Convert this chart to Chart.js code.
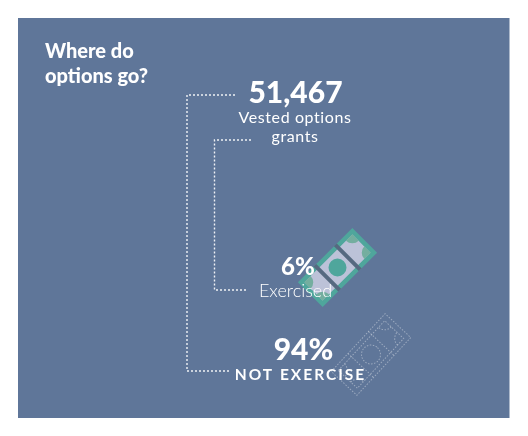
<!DOCTYPE html>
<html>
<head>
<meta charset="utf-8">
<title>Where do options go?</title>
<script src="https://cdn.jsdelivr.net/npm/chart.js@4"></script>
<style>
  html, body { margin: 0; padding: 0; background: #fff; }
  canvas { display: block; }
</style>
</head>
<body>
<canvas id="chart" width="528" height="436"></canvas>
<script>
const titleLines = ['Where do', 'options go?'];
const totalGrants = [51467];
const shareValues = [6, 94];
const shareLabels = ['Exercised', 'NOT EXERCISE'];
const totalLabel = ['Vested options', 'grants'];

// the two dotted brackets, in picture units
const outerX = [235, 187, 187, 229];
const outerY = [95, 95, 371, 371];
const innerX = [251, 214.5, 214.5, 248];
const innerY = [140, 140, 290, 290];

const panelColor = '#5f7699';
const white = '#ffffff';

function bracket(xs, ys) {
  return {
    data: xs.map((x, i) => ({ x: x, y: ys[i] })),
    showLine: true,
    borderColor: 'rgba(255,255,255,0.9)',
    borderWidth: 1.4,
    borderDash: [2, 2],
    pointRadius: 0,
    tension: 0
  };
}

function billOutline(ctx, filled) {
  // body of the note, centered on 0,0
  if (filled) {
    ctx.fillStyle = '#4fa69c';
    ctx.fillRect(-38.5, -17.5, 77, 35);
    ctx.save();
    ctx.beginPath();
    ctx.rect(-34, -13, 68, 26);
    ctx.clip();
    ctx.fillStyle = '#bcc2d8';
    ctx.fillRect(-34, -13, 68, 26);
    ctx.fillStyle = '#74ae9f';
    [[-34, -13], [34, -13], [-34, 13], [34, 13]].forEach(c => {
      ctx.beginPath();
      ctx.arc(c[0], c[1], 9, 0, Math.PI * 2);
      ctx.fill();
    });
    ctx.restore();
    ctx.fillStyle = '#566980';
    ctx.fillRect(-16.5, -17.5, 4, 35);
    ctx.fillRect(12.5, -17.5, 4, 35);
    ctx.fillStyle = '#4fa69c';
    ctx.beginPath();
    ctx.arc(0, 0, 9, 0, Math.PI * 2);
    ctx.fill();
  } else {
    ctx.strokeStyle = 'rgba(255,255,255,0.38)';
    ctx.lineWidth = 1;
    ctx.setLineDash([1.5, 1.5]);
    ctx.strokeRect(-39.5, -17.5, 79, 35);
    ctx.strokeRect(-34, -13, 68, 26);
    ctx.beginPath();
    ctx.moveTo(-15, -17.5); ctx.lineTo(-15, 17.5);
    ctx.moveTo(15, -17.5); ctx.lineTo(15, 17.5);
    ctx.stroke();
    ctx.beginPath();
    ctx.arc(0, 0, 9.5, 0, Math.PI * 2);
    ctx.stroke();
    [[-34, -13, 0], [34, -13, Math.PI / 2], [34, 13, Math.PI], [-34, 13, -Math.PI / 2]].forEach(c => {
      ctx.beginPath();
      ctx.arc(c[0], c[1], 9, c[2], c[2] + Math.PI / 2);
      ctx.stroke();
    });
  }
}

const pagePlugin = {
  id: 'page',
  beforeDatasetsDraw(chart) {
    const ctx = chart.ctx;
    const sx = chart.scales.x;
    const sy = chart.scales.y;
    ctx.save();
    ctx.fillStyle = panelColor;
    ctx.fillRect(sx.getPixelForValue(18), sy.getPixelForValue(18), 491.5, 400);
    ctx.restore();

    ctx.save();
    ctx.translate(sx.getPixelForValue(337.5), sy.getPixelForValue(267.5));
    ctx.rotate(-Math.PI / 4);
    billOutline(ctx, true);
    ctx.restore();

    ctx.save();
    ctx.translate(sx.getPixelForValue(371), sy.getPixelForValue(354.5));
    ctx.rotate(-47 * Math.PI / 180);
    billOutline(ctx, false);
    ctx.restore();
  },
  afterDatasetsDraw(chart) {
    const ctx = chart.ctx;
    const sx = chart.scales.x;
    const sy = chart.scales.y;
    const put = (text, x, y, font, align, spacing) => {
      ctx.font = font;
      ctx.textAlign = align;
      ctx.letterSpacing = spacing || '0px';
      ctx.fillText(text, sx.getPixelForValue(x), sy.getPixelForValue(y));
    };
    ctx.save();
    ctx.fillStyle = white;
    ctx.textBaseline = 'alphabetic';
    put(titleLines[0], 45, 58, '900 20px Lato', 'left');
    put(titleLines[1], 45, 83, '900 20px Lato', 'left');
    put(totalGrants[0].toLocaleString('en-US'), 295.5, 103, '900 30px Lato', 'center');
    put(totalLabel[0], 295, 123, '400 16px Lato', 'center', '0.6px');
    put(totalLabel[1], 295, 142, '400 16px Lato', 'center', '0.6px');
    put(shareValues[0] + '%', 298, 275, '900 24px Lato', 'center');
    put(shareLabels[0], 295.5, 297, '300 18px Lato', 'center');
    put(shareValues[1] + '%', 303.5, 360, '900 30px Lato', 'center');
    put(shareLabels[1], 300.5, 380, '700 15.5px Lato', 'center', '2px');
    ctx.restore();
  }
};

new Chart(document.getElementById('chart'), {
  type: 'scatter',
  data: {
    datasets: [bracket(outerX, outerY), bracket(innerX, innerY)]
  },
  options: {
    responsive: false,
    animation: false,
    layout: { padding: 0 },
    plugins: { legend: { display: false }, tooltip: { enabled: false } },
    scales: {
      x: { type: 'linear', min: 0, max: 528, display: false },
      y: { type: 'linear', min: 0, max: 436, reverse: true, display: false }
    }
  },
  plugins: [pagePlugin]
});
</script>
</body>
</html>
